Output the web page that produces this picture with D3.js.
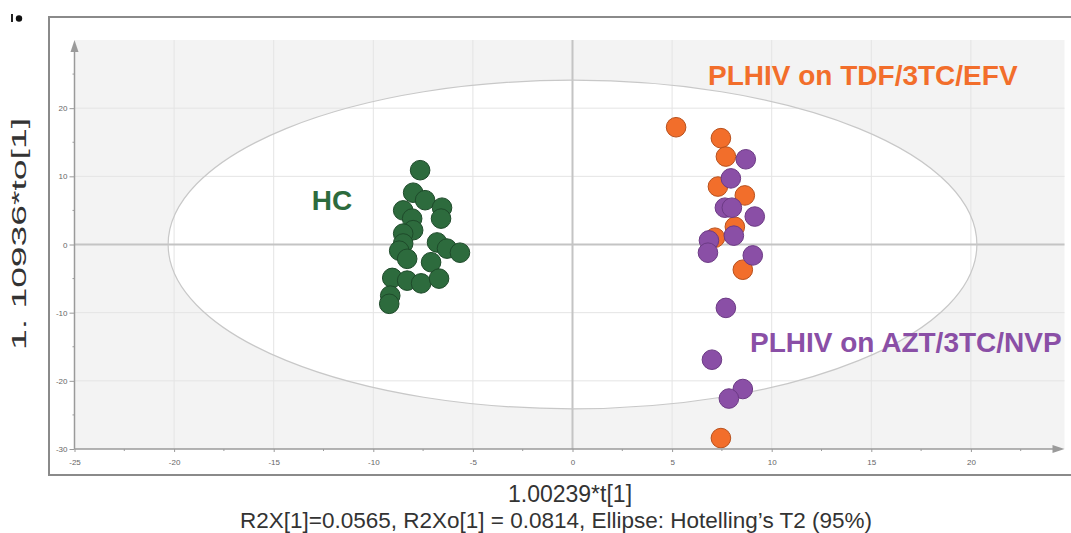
<!DOCTYPE html>
<html>
<head>
    <meta charset="utf-8">
    <title>OPLS-DA score plot</title>
    <script src="https://d3js.org/d3.v7.min.js"></script>
    <style>
        body { margin: 0; background: #fff; }
        text { font-family: "Liberation Sans", Arial, sans-serif; }
        .tick text { font-size: 8px; fill: #666; }
        .grid line { stroke: #e4e4e4; stroke-width: 1; }
    </style>
</head>
<body>
<svg width="1071" height="533"></svg>
<script>
    // Data
    var hc = [
        [-7.65, 10.9], [-8.0, 7.6], [-7.4, 6.5], [-6.55, 5.4], [-6.6, 3.8],
        [-8.5, 5.0], [-8.05, 3.8], [-8.0, 2.1], [-8.5, 1.6], [-8.5, 0.15],
        [-6.8, 0.3], [-6.3, -0.6], [-5.65, -1.2], [-8.7, -0.9], [-8.3, -2.1],
        [-7.1, -2.6], [-9.05, -4.9], [-8.3, -5.3], [-7.6, -5.7], [-6.7, -5.0],
        [-9.15, -7.5], [-9.2, -8.7]
    ];
    var tdf = [
        [5.2, 17.2], [7.45, 15.6], [7.7, 12.9], [7.3, 8.5], [8.65, 7.2],
        [8.15, 2.6], [7.15, 1.0], [8.55, -3.7], [7.45, -28.4]
    ];
    var azt = [
        [8.7, 12.5], [7.95, 9.7], [7.65, 5.4], [8.0, 5.4], [9.15, 4.1],
        [8.1, 1.3], [6.85, 0.6], [6.8, -1.2], [9.05, -1.6], [7.7, -9.3],
        [7.0, -16.9], [8.55, -21.2], [7.85, -22.6]
    ];
    var xTicks = [-25, -20, -15, -10, -5, 0, 5, 10, 15, 20];
    var yTicks = [-30, -20, -10, 0, 10, 20];
    var ellipseRadii = [20.3, 24.1];   // Hotelling's T2 (95%)

    var svg = d3.select("svg");

    var x = d3.scaleLinear().domain([-25, 25]).range([74.5, 1070.5]);
    var y = d3.scaleLinear().domain([-30, 30]).range([449, 40]);
    var xEnd = 24.7;
    var fmt = function(d) { return String(d); };

    // outer frame
    svg.append("rect")
        .attr("x", 49).attr("y", 17)
        .attr("width", 1040).attr("height", 458)
        .attr("fill", "none").attr("stroke", "#8a8a8a").attr("stroke-width", 2);

    // little mark in the corner
    svg.append("rect").attr("x", 11).attr("y", 14).attr("width", 2).attr("height", 8).attr("fill", "#222");
    svg.append("circle").attr("cx", 19).attr("cy", 18.5).attr("r", 3.2).attr("fill", "#111");

    // plot background
    svg.append("rect")
        .attr("x", x(-25)).attr("y", y(30))
        .attr("width", x(xEnd) - x(-25)).attr("height", y(-30) - y(30))
        .attr("fill", "#f3f3f3");

    // ellipse interior
    svg.append("ellipse")
        .attr("cx", x(0)).attr("cy", y(0))
        .attr("rx", x(ellipseRadii[0]) - x(0))
        .attr("ry", y(0) - y(ellipseRadii[1]))
        .attr("fill", "#fff");

    // grid
    var grid = svg.append("g").attr("class", "grid");
    grid.selectAll(".gx").data(xTicks.filter(function(d) { return d !== 0 && d !== -25; }))
        .enter().append("line")
        .attr("x1", function(d) { return x(d); }).attr("x2", function(d) { return x(d); })
        .attr("y1", y(30)).attr("y2", y(-30));
    grid.selectAll(".gy").data(yTicks.filter(function(d) { return d !== 0 && d !== -30; }))
        .enter().append("line")
        .attr("x1", x(-25)).attr("x2", x(xEnd))
        .attr("y1", function(d) { return y(d); }).attr("y2", function(d) { return y(d); });

    // zero lines
    svg.append("line")
        .attr("x1", x(0)).attr("x2", x(0)).attr("y1", y(30)).attr("y2", y(-30))
        .attr("stroke", "#c4c4c4").attr("stroke-width", 2);
    svg.append("line")
        .attr("x1", x(-25)).attr("x2", x(xEnd)).attr("y1", y(0)).attr("y2", y(0))
        .attr("stroke", "#c4c4c4").attr("stroke-width", 2);

    // ellipse outline
    svg.append("ellipse")
        .attr("cx", x(0)).attr("cy", y(0))
        .attr("rx", x(ellipseRadii[0]) - x(0))
        .attr("ry", y(0) - y(ellipseRadii[1]))
        .attr("fill", "none").attr("stroke", "#c8c8c8").attr("stroke-width", 1.2);

    // points
    function drawGroup(data, fill, stroke) {
        svg.append("g").selectAll("circle").data(data).enter().append("circle")
            .attr("cx", function(d) { return x(d[0]); })
            .attr("cy", function(d) { return y(d[1]); })
            .attr("r", 9.8)
            .attr("fill", fill)
            .attr("stroke", stroke)
            .attr("stroke-width", 1);
    }
    drawGroup(hc, "#2d6b3d", "#1e4a2a");
    drawGroup(tdf, "#f26e2b", "#b8501c");
    drawGroup(azt, "#8a4fa6", "#6c3a85");

    // group labels
    svg.append("text").attr("x", 332).attr("y", 210).attr("text-anchor", "middle")
        .attr("font-size", 28).attr("font-weight", "bold").attr("fill", "#2d6b3d").text("HC");
    svg.append("text").attr("x", 708).attr("y", 85)
        .attr("font-size", 28).attr("font-weight", "bold").attr("fill", "#f26e2b").text("PLHIV on TDF/3TC/EFV");
    svg.append("text").attr("x", 750).attr("y", 352)
        .attr("font-size", 28).attr("font-weight", "bold").attr("fill", "#8a4fa6").text("PLHIV on AZT/3TC/NVP");

    // axes
    var axisColor = "#9a9a9a";
    var xAxis = svg.append("g")
        .attr("transform", "translate(0," + y(-30) + ")")
        .call(d3.axisBottom(x).tickValues(xTicks).tickSize(3).tickPadding(6).tickFormat(fmt));
    var yAxis = svg.append("g")
        .attr("transform", "translate(" + x(-25) + ",0)")
        .call(d3.axisLeft(y).tickValues(yTicks).tickSize(5).tickPadding(2).tickFormat(fmt));
    [xAxis, yAxis].forEach(function(a) {
        a.select(".domain").remove();
        a.selectAll(".tick line").attr("stroke", axisColor);
    });
    xAxis.selectAll(".tick text").attr("dy", "0.9em");

    // minor ticks
    svg.append("g").selectAll("line").data(d3.range(-22.5, 24, 5)).enter().append("line")
        .attr("x1", function(d) { return x(d); }).attr("x2", function(d) { return x(d); })
        .attr("y1", y(-30)).attr("y2", y(-30) + 2)
        .attr("stroke", axisColor);
    svg.append("g").selectAll("line").data(d3.range(-25, 30, 10)).enter().append("line")
        .attr("x1", x(-25) - 2).attr("x2", x(-25))
        .attr("y1", function(d) { return y(d); }).attr("y2", function(d) { return y(d); })
        .attr("stroke", axisColor);

    // axis lines with arrows
    svg.append("line")
        .attr("x1", x(-25)).attr("x2", x(xEnd) - 6).attr("y1", y(-30)).attr("y2", y(-30))
        .attr("stroke", axisColor).attr("stroke-width", 1.5);
    svg.append("path")
        .attr("d", "M" + x(xEnd) + "," + y(-30) + "l-12,-4l0,8z").attr("fill", axisColor);
    svg.append("line")
        .attr("x1", x(-25)).attr("x2", x(-25)).attr("y1", y(-30)).attr("y2", y(30) + 6)
        .attr("stroke", axisColor).attr("stroke-width", 1.5);
    svg.append("path")
        .attr("d", "M" + x(-25) + "," + y(30) + "l-4,12l8,0z").attr("fill", axisColor);

    // axis titles
    svg.append("text")
        .attr("transform", "translate(26,234) rotate(-90)")
        .attr("text-anchor", "middle").attr("font-size", 21).attr("fill", "#333")
        .attr("textLength", 232).attr("lengthAdjust", "spacingAndGlyphs")
        .text("1. 10936*to[1]");
    svg.append("text").attr("x", 570).attr("y", 502).attr("text-anchor", "middle")
        .attr("font-size", 23).attr("fill", "#333").text("1.00239*t[1]");
    svg.append("text").attr("x", 556).attr("y", 528).attr("text-anchor", "middle")
        .attr("font-size", 22.5).attr("fill", "#333")
        .text("R2X[1]=0.0565, R2Xo[1] = 0.0814, Ellipse: Hotelling\u2019s T2 (95%)");
</script>
</body>
</html>
